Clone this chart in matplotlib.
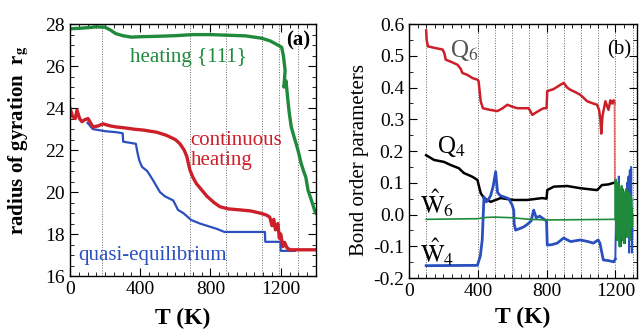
import numpy as np
import matplotlib
matplotlib.use('Agg')
import matplotlib.pyplot as plt
from matplotlib.ticker import MultipleLocator

plt.rcParams['font.family'] = ['Liberation Serif', 'DejaVu Serif']
plt.rcParams['mathtext.fontset'] = 'stix'
plt.rcParams['axes.unicode_minus'] = False

# ---- panel (a): radius of gyration ----
T_heat111 = [0, 50, 100, 150, 200, 230, 260, 300, 350, 400, 500, 600, 700, 800, 900, 1000,
             1090, 1140, 1184, 1205, 1215, 1225, 1218, 1230, 1238, 1248, 1260, 1277, 1298,
             1315, 1330, 1343, 1355, 1375, 1394, 1400]
rg_heat111 = [27.78, 27.8, 27.83, 27.87, 27.85, 27.72, 27.55, 27.45, 27.38, 27.4, 27.42, 27.45,
              27.5, 27.5, 27.47, 27.44, 27.33, 27.2, 27.0, 26.9, 26.5, 25.8, 25.0, 25.3, 24.6,
              23.8, 23.1, 22.6, 22.0, 21.4, 21.0, 20.7, 20.1, 19.6, 19.1, 19.0]

T_cont = [0, 15, 30, 40, 55, 68, 85, 103, 131, 160, 188, 230, 265, 320, 360, 420, 494, 550,
          600, 626, 650, 665, 683, 700, 720, 750, 780, 820, 854, 900, 968, 1030, 1081, 1120,
          1138, 1150, 1160, 1170, 1184, 1192, 1200, 1212, 1222, 1235, 1252, 1300, 1400]
rg_cont = [24.0, 23.6, 23.5, 23.9, 23.5, 23.35, 23.45, 23.5, 23.1, 23.15, 23.25, 23.15, 23.1,
           23.05, 23.0, 22.95, 22.85, 22.7, 22.5, 22.3, 22.0, 21.7, 21.05, 20.7, 20.4, 20.1,
           19.8, 19.5, 19.3, 19.2, 19.15, 19.1, 19.0, 18.9, 18.8, 18.4, 18.7, 18.2, 18.5, 17.8,
           18.0, 17.4, 17.6, 17.35, 17.25, 17.25, 17.25]

T_quasi = [100, 130, 200, 265, 300, 303, 375, 385, 395, 410, 440, 474, 512, 540, 588, 615,
           645, 690, 740, 835, 880, 1110, 1112, 1198, 1200, 1280]
rg_quasi = [23.3, 23.0, 22.9, 22.85, 22.8, 22.4, 22.3, 21.85, 21.5, 21.2, 21.0, 20.55, 20.0,
            19.8, 19.6, 19.15, 19.0, 18.67, 18.5, 18.25, 18.1, 18.1, 17.63, 17.63, 17.2, 17.2]

grid_a = [183, 686, 891, 1091, 1189, 1297]

# ---- panel (b): bond order parameters ----
T_Q6 = [100, 103, 110, 150, 195, 205, 214, 250, 282, 300, 311, 340, 369, 398, 405, 417, 430,
        470, 514, 545, 572, 600, 630, 696, 717, 740, 765, 783, 800, 804, 840, 881, 900, 920,
        939, 970, 997, 1036, 1070, 1094, 1105, 1113, 1118, 1125, 1142, 1160, 1171, 1180,
        1190, 1195]
Q6 = [0.58, 0.55, 0.53, 0.525, 0.52, 0.51, 0.488, 0.48, 0.472, 0.46, 0.446, 0.44, 0.43,
      0.425, 0.42, 0.357, 0.335, 0.33, 0.326, 0.335, 0.346, 0.34, 0.335, 0.335, 0.314, 0.322,
      0.33, 0.335, 0.335, 0.389, 0.395, 0.409, 0.415, 0.4, 0.393, 0.385, 0.377, 0.357, 0.35,
      0.346, 0.33, 0.30, 0.255, 0.31, 0.357, 0.33, 0.36, 0.35, 0.36, 0.35]
T_Q6_drop = [1195, 1197]
Q6_drop = [0.35, 0.10]

T_Q4 = [100, 146, 203, 243, 290, 319, 369, 398, 417, 436, 475, 533, 609, 688, 775, 800, 804,
        842, 919, 997, 1094, 1122, 1160, 1190, 1200]
Q4 = [0.187, 0.172, 0.166, 0.156, 0.146, 0.131, 0.119, 0.109, 0.068, 0.052, 0.04, 0.052,
      0.046, 0.046, 0.052, 0.05, 0.077, 0.088, 0.09, 0.083, 0.077, 0.093, 0.095, 0.1, 0.1]

T_W4 = [100, 398, 415, 426, 436, 450, 465, 475, 490, 504, 515, 530, 551, 580, 600, 609, 612,
        620, 640, 667, 690, 710, 725, 740, 760, 775, 800, 804, 830, 862, 899, 940, 997, 1040,
        1072, 1100, 1110, 1130, 1160, 1190, 1200]
W4 = [-0.161, -0.16, -0.13, -0.08, 0.056, 0.04, 0.05, 0.06, 0.09, 0.135, 0.07, 0.06, 0.056,
      0.05, 0.03, 0.014, -0.03, -0.049, -0.045, -0.039, -0.03, -0.02, 0.014, -0.01, -0.005,
      -0.011, -0.02, -0.096, -0.095, -0.09, -0.074, -0.085, -0.08, -0.085, -0.09, -0.08,
      -0.09, -0.143, -0.145, -0.149, -0.14]

T_W6 = [100, 400, 450, 500, 600, 700, 800, 1200]
W6 = [-0.015, -0.013, -0.009, -0.008, -0.01, -0.015, -0.017, -0.015]

T_hi = [1200, 1204, 1208, 1212, 1216, 1220, 1224, 1228, 1232, 1236, 1240, 1244, 1248, 1252,
        1256, 1260, 1264, 1268, 1272, 1276, 1280, 1284, 1288, 1292, 1296, 1300]
W4_hi = [-0.14, 0.02, -0.08, 0.10, -0.05, 0.12, -0.02, 0.05, -0.10, 0.03, -0.06, 0.08, -0.04,
         0.02, -0.09, 0.06, -0.07, 0.10, -0.03, 0.12, -0.12, 0.14, -0.05, 0.15, -0.12, 0.0]
T_hi2 = [1200, 1202, 1205, 1207, 1210, 1212, 1215, 1217, 1220, 1222, 1225, 1227, 1230, 1232,
         1235, 1237, 1240, 1242, 1245, 1247, 1250, 1252, 1255, 1257, 1260, 1262, 1265, 1267,
         1270, 1272, 1275, 1277, 1280, 1282, 1285, 1287, 1290, 1292, 1295, 1297]
W6_hi = [-0.015, 0.11, -0.06, 0.09, -0.08, 0.07, -0.03, 0.10, -0.05, 0.06, -0.10, 0.08,
         -0.02, 0.05, -0.07, 0.09, -0.04, 0.06, -0.08, 0.03, -0.09, 0.07, -0.05, 0.04, -0.06,
         0.08, -0.04, 0.05, -0.07, 0.06, -0.03, 0.07, -0.05, 0.04, -0.08, 0.06, -0.03, 0.05,
         -0.04, 0.02]

grid_b = [100, 400, 500, 600, 700, 800, 900, 1000, 1100, 1200, 1300]

GREEN = '#1f8a3c'
RED = '#cc1f2a'
BLUE = '#2a50c0'

fig = plt.figure(figsize=(6.42, 3.35), dpi=100)
ax1 = fig.add_axes([0.109, 0.176, 0.383, 0.752])
ax2 = fig.add_axes([0.637, 0.170, 0.355, 0.758])


def style(ax):
    ax.tick_params(which='both', direction='in', top=True, right=True, labelsize=14)
    ax.tick_params(which='major', length=6, width=0.8)
    ax.tick_params(which='minor', length=3, width=0.6)
    for s in ax.spines.values():
        s.set_linewidth(1.0)


# panel (a)
for g in grid_a:
    ax1.axvline(g, color='0.4', ls=':', lw=0.7, zorder=0)
ax1.plot(T_quasi, rg_quasi, color=BLUE, lw=1.6)
ax1.plot(T_cont, rg_cont, color=RED, lw=2.4)
ax1.plot(T_heat111, rg_heat111, color=GREEN, lw=2.4)
ax1.set_xlim(0, 1400)
ax1.set_ylim(16, 28)
ax1.xaxis.set_major_locator(MultipleLocator(400))
ax1.xaxis.set_minor_locator(MultipleLocator(50))
ax1.yaxis.set_major_locator(MultipleLocator(2))
ax1.yaxis.set_minor_locator(MultipleLocator(0.5))
style(ax1)
ax1.set_xlabel('T (K)', fontsize=17, fontweight='bold')
ax1.xaxis.set_label_coords(0.46, -0.125)
ax1.set_ylabel(r'radius of gyration  r$_\mathbf{g}$', fontsize=15, fontweight='bold')
ax1.yaxis.set_label_coords(-0.16, 0.54)
ax1.text(672, 26.43, 'heating {111}', color=GREEN, fontsize=15, ha='center', va='center')
ax1.text(683, 22.48, 'continuous', color=RED, fontsize=15, ha='left', va='center')
ax1.text(690, 21.5, 'heating', color=RED, fontsize=15, ha='left', va='center')
ax1.text(46, 17.0, 'quasi-equilibrium', color=BLUE, fontsize=15, ha='left', va='center')
ax1.text(1298, 27.2, '(a)', fontsize=15, fontweight='bold', ha='center', va='center')

# panel (b)
for g in grid_b:
    ax2.axvline(g, color='0.4', ls=':', lw=0.7, zorder=0)
ax2.plot(T_Q6, Q6, color=RED, lw=1.8)
ax2.plot(T_Q6_drop, Q6_drop, color='#e87070', lw=1.2)
ax2.plot(T_Q4, Q4, color='black', lw=1.8)
ax2.plot(T_W4, W4, color=BLUE, lw=2.0)
ax2.plot(T_hi, W4_hi, color=BLUE, lw=1.4)
ax2.plot(T_W6, W6, color=GREEN, lw=1.2)
ax2.plot(T_hi2, W6_hi, color=GREEN, lw=1.6)
ax2.set_xlim(0, 1325)
ax2.set_ylim(-0.2, 0.6)
ax2.xaxis.set_major_locator(MultipleLocator(400))
ax2.xaxis.set_minor_locator(MultipleLocator(50))
ax2.yaxis.set_major_locator(MultipleLocator(0.1))
ax2.yaxis.set_minor_locator(MultipleLocator(0.05))
ax2.yaxis.set_major_formatter(matplotlib.ticker.FormatStrFormatter('%.1f'))
style(ax2)
ax2.set_xlabel('T (K)', fontsize=17, fontweight='bold')
ax2.xaxis.set_label_coords(0.5, -0.115)
ax2.set_ylabel('Bond order parameters', fontsize=15)
ax2.yaxis.set_label_coords(-0.175, 0.465)
ax2.text(238, 0.518, r'Q$_6$', color='#555555', fontsize=18, ha='left', va='center')
ax2.text(162, 0.216, r'Q$_4$', color='black', fontsize=18, ha='left', va='center')
ax2.text(64, 0.036, r'$\hat{\mathrm{W}}_6$', color='black', fontsize=18, ha='left', va='center')
ax2.text(64, -0.118, r'$\hat{\mathrm{W}}_4$', color='black', fontsize=18, ha='left', va='center')
ax2.text(1223, 0.518, '(b)', fontsize=15, ha='center', va='center')

fig.savefig('out.png', dpi=100)
